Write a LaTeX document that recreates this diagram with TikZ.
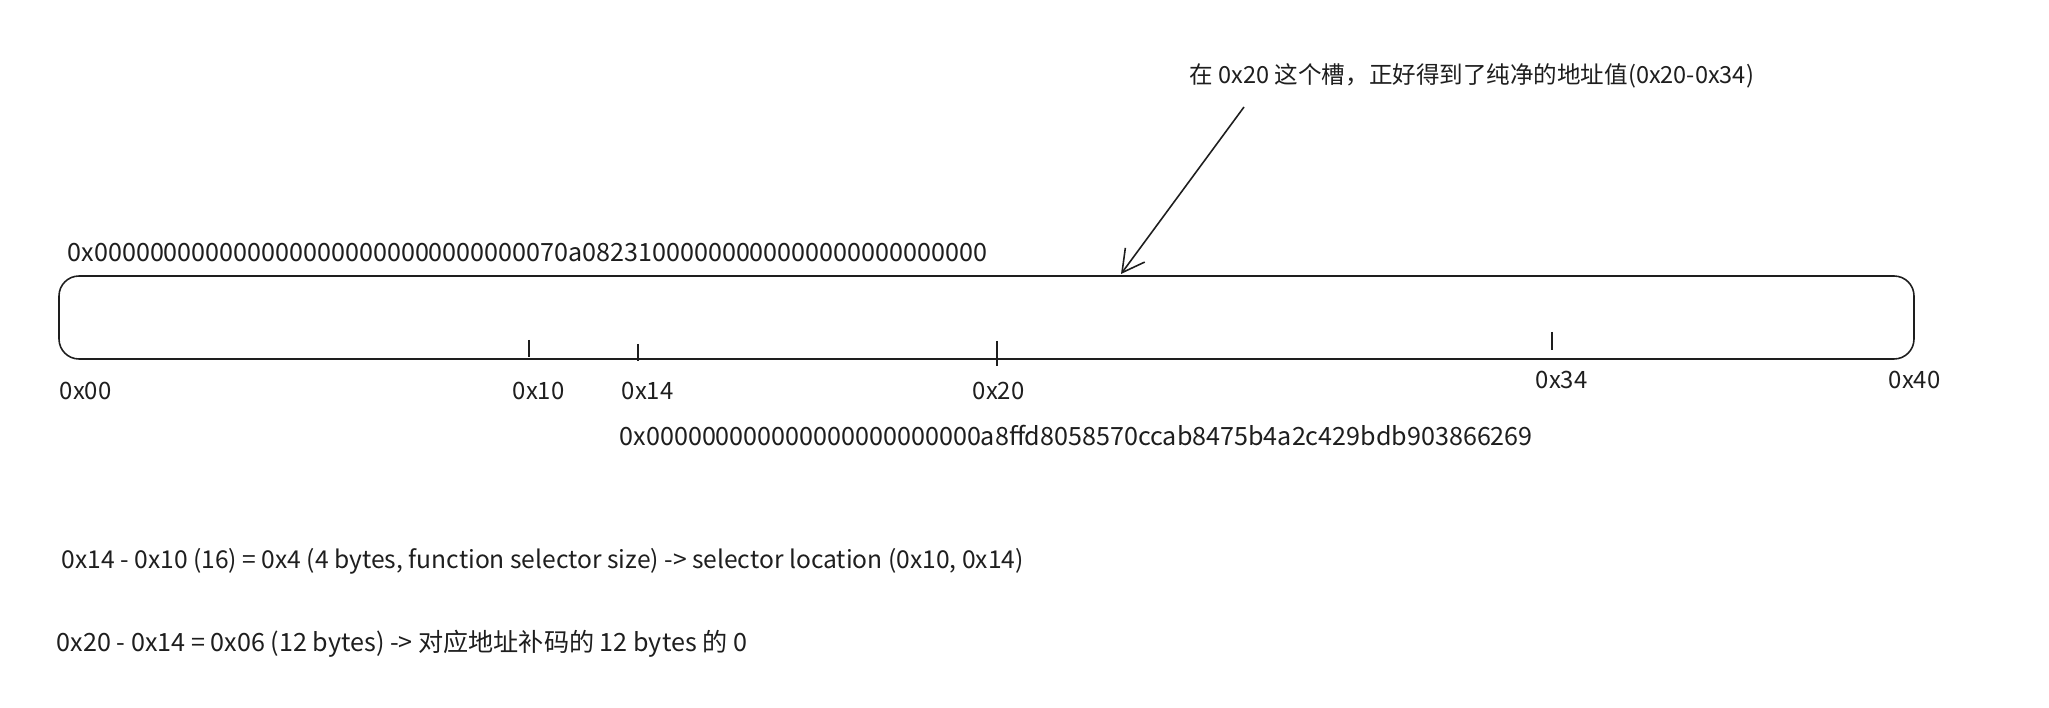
\documentclass[tikz,border=0pt]{standalone}
\usepackage{fontspec}
\setmainfont{Noto Sans CJK SC}
\usetikzlibrary{arrows.meta}
\definecolor{ink}{HTML}{1E1E1E}

\begin{document}
\begin{tikzpicture}[line width=0.45pt,draw=ink,text=ink]
  \useasboundingbox (0,0) rectangle (20.49,7.07);

  % memory area 0x00 .. 0x40
  \node[draw,rounded corners=0.2cm,minimum width=18.55cm,minimum height=0.83cm,inner sep=0pt] (mem) at (9.865,3.895) {};

  \coordinate (t10a) at (5.29,3.67);
  \coordinate (t10b) at (5.29,3.50);
  \coordinate (t14a) at (6.38,3.63);
  \coordinate (t14b) at (6.38,3.46);
  \coordinate (t20a) at (9.97,3.66);
  \coordinate (t20b) at (9.97,3.41);
  \coordinate (t34a) at (15.52,3.75);
  \coordinate (t34b) at (15.52,3.57);

  \draw (t10a) -- (t10b);
  \draw (t14a) -- (t14b);
  \draw (t20a) -- (t20b);
  \draw (t34a) -- (t34b);

  \begin{scope}[every node/.style={anchor=west,inner sep=0pt,font=\fontsize{7.15}{9}\selectfont}]
    \node[font=\fontsize{6.8}{9}\selectfont] (o00) at (0.59,3.16)  {0x00};
    \node[font=\fontsize{6.8}{9}\selectfont] (o10) at (5.12,3.16)  {0x10};
    \node[font=\fontsize{6.8}{9}\selectfont] (o14) at (6.21,3.16)  {0x14};
    \node[font=\fontsize{6.8}{9}\selectfont] (o20) at (9.72,3.16)  {0x20};
    \node[font=\fontsize{6.8}{9}\selectfont] (o34) at (15.35,3.27) {0x34};
    \node[font=\fontsize{6.8}{9}\selectfont] (o40) at (18.88,3.27) {0x40};

    \node (word0) at (0.67,4.54) {0x0000000000000000000000000000000070a08231000000000000000000000000};
    \node (word1) at (6.19,2.71) {0x000000000000000000000000a8ffd8058570ccab8475b4a2c429bdb903866269};

    \node[font=\fontsize{6.7}{9}\selectfont] (note) at (11.89,6.31) {在 0x20 这个槽，正好得到了纯净的地址值(0x20-0x34)};

    \node[font=\fontsize{7.0}{9}\selectfont] (calc1) at (0.61,1.46) {0x14 - 0x10 (16) = 0x4 (4 bytes, function selector size) -> selector location (0x10, 0x14)};
    \node (calc2) at (0.56,0.63) {0x20 - 0x14 = 0x06 (12 bytes) -> 对应地址补码的 12 bytes 的 0};
  \end{scope}

  \coordinate (from) at (12.44,6.00);
  \coordinate (tip) at (11.21,4.33);
  \draw[-{Straight Barb[length=2.2mm,width=2.4mm]}] (from) -- (tip);

\end{tikzpicture}
\end{document}
